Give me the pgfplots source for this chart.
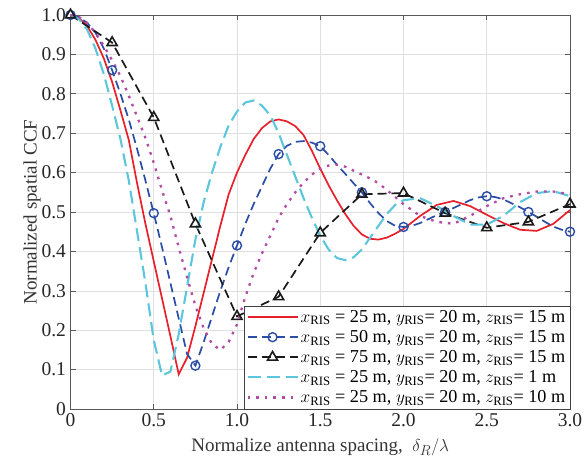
\documentclass[border=0pt]{standalone}
\usepackage{fontspec}
\setmainfont{Liberation Serif}
\usepackage{pgfplots}
\pgfplotsset{compat=1.18}
\usetikzlibrary{calc}
\definecolor{cred}{HTML}{E8202A}
\definecolor{cblue}{HTML}{2B4DA6}
\definecolor{cblack}{HTML}{1A1A1A}
\definecolor{ccyan}{HTML}{5CC6DC}
\definecolor{cmag}{HTML}{B24BA6}
\begin{document}
\begin{tikzpicture}
\begin{axis}[
  scale only axis, width=499.5pt, height=394pt,
  xmin=0, xmax=3, ymin=0, ymax=1,
  xtick={0,0.5,1,1.5,2,2.5,3},
  xticklabels={0,0.5,1.0,1.5,2.0,2.5,3.0},
  ytick={0,0.1,0.2,0.3,0.4,0.5,0.6,0.7,0.8,0.9,1.0},
  yticklabels={0,0.1,0.2,0.3,0.4,0.5,0.6,0.7,0.8,0.9,1.0},
  tick align=inside, tick pos=both,
  major tick length=5pt,
  grid=major,
  major grid style={draw=black!12, line width=0.6pt},
  axis line style={draw=black!65, line width=0.8pt},
  every tick/.style={draw=black!65, line width=0.6pt},
  tick label style={font=\fontsize{19.5}{22}\selectfont, text=black!85},
  xticklabel style={yshift=-1pt},
  yticklabel style={xshift=-1pt},
  xlabel={Normalize antenna spacing,\ \ $\delta_R/\lambda$},
  ylabel={Normalized spatial CCF},
  label style={font=\fontsize{19}{22}\selectfont, text=black!80},
  xlabel style={yshift=-5pt},
  ylabel style={yshift=-6pt},
  legend style={at={(1,0)}, anchor=south east, draw=black!75, fill=white,
    font=\fontsize{18.2}{20}\selectfont, row sep=2.5pt, inner sep=2.5pt,
    cells={anchor=west}},
  legend image code/.code={\draw[#1, mark repeat=2, mark phase=2] plot coordinates {(0pt,0pt) (25pt,0pt) (50pt,0pt)};},
]
% red: x=25, z=15
\addplot[cred, line width=1.7pt, solid] coordinates {
(0,1) (0.05,0.993) (0.1,0.972) (0.15,0.937) (0.2,0.89) (0.25,0.83) (0.3,0.758) (0.35,0.683) (0.4,0.573) (0.45,0.47)
(0.5,0.375) (0.55,0.28) (0.6,0.185) (0.65,0.088) (0.7,0.13) (0.75,0.21) (0.8,0.295) (0.85,0.38) (0.9,0.465) (0.95,0.545)
(1.0,0.60) (1.05,0.645) (1.1,0.685) (1.15,0.713) (1.2,0.73) (1.25,0.735) (1.3,0.73) (1.35,0.718) (1.4,0.695) (1.45,0.655)
(1.5,0.61) (1.55,0.568) (1.6,0.53) (1.65,0.495) (1.7,0.465) (1.75,0.443) (1.8,0.432) (1.85,0.43) (1.9,0.435) (1.95,0.445)
(2.0,0.457) (2.1,0.49) (2.2,0.518) (2.3,0.528) (2.4,0.515) (2.5,0.493) (2.6,0.472) (2.7,0.455) (2.8,0.452) (2.9,0.47) (3.0,0.505)};
\addlegendentry{$x_{\mathrm{RIS}}$ = 25 m, $y_{\mathrm{RIS}}$= 20 m, $z_{\mathrm{RIS}}$= 15 m}
% blue: x=50, z=15
\addplot[cblue, line width=1.7pt, dash pattern=on 9pt off 5pt, mark=o, mark size=4.5pt, mark repeat=5,
  mark options={solid, line width=1.4pt}] coordinates {
(0,1.0) (0.05,0.995) (0.1,0.98) (0.15,0.955) (0.2,0.915) (0.25,0.86) (0.3,0.80) (0.35,0.735) (0.4,0.66) (0.45,0.58)
(0.5,0.497) (0.55,0.41) (0.6,0.32) (0.65,0.23) (0.7,0.14) (0.75,0.11) (0.8,0.17) (0.85,0.235) (0.9,0.30) (0.95,0.36)
(1.0,0.415) (1.05,0.47) (1.1,0.52) (1.15,0.565) (1.2,0.61) (1.25,0.647) (1.3,0.668) (1.35,0.678) (1.4,0.68) (1.45,0.676)
(1.5,0.667) (1.55,0.645) (1.6,0.62) (1.65,0.597) (1.7,0.573) (1.75,0.55) (1.8,0.522) (1.85,0.497) (1.9,0.477) (1.95,0.465)
(2.0,0.462) (2.05,0.465) (2.1,0.472) (2.15,0.482) (2.2,0.492) (2.25,0.50) (2.3,0.51) (2.35,0.52) (2.4,0.53) (2.45,0.537)
(2.5,0.54) (2.55,0.538) (2.6,0.532) (2.65,0.522) (2.7,0.512) (2.75,0.50) (2.8,0.488) (2.85,0.475) (2.9,0.463) (2.95,0.455) (3.0,0.45)};
\addlegendentry{$x_{\mathrm{RIS}}$ = 50 m, $y_{\mathrm{RIS}}$= 20 m, $z_{\mathrm{RIS}}$= 15 m}
% black: x=75, z=15
\addplot[cblack, line width=1.7pt, dash pattern=on 9pt off 5pt, mark=triangle, mark size=5.8pt,
  mark options={solid, line width=1.6pt}] coordinates {
(0,1.0) (0.25,0.93) (0.5,0.74) (0.75,0.47) (1.0,0.235) (1.25,0.285) (1.5,0.447) (1.75,0.545) (2.0,0.548) (2.25,0.497) (2.5,0.46) (2.75,0.475) (3.0,0.52)};
\addlegendentry{$x_{\mathrm{RIS}}$ = 75 m, $y_{\mathrm{RIS}}$= 20 m, $z_{\mathrm{RIS}}$= 15 m}
% cyan: x=25, z=1
\addplot[ccyan, line width=2.1pt, dash pattern=on 13pt off 6pt] coordinates {
(0,1) (0.05,0.99) (0.1,0.963) (0.15,0.915) (0.2,0.85) (0.25,0.77) (0.3,0.685) (0.35,0.58) (0.4,0.45) (0.45,0.32)
(0.5,0.175) (0.55,0.085) (0.6,0.095) (0.65,0.19) (0.7,0.31) (0.75,0.43) (0.8,0.525) (0.85,0.6) (0.9,0.665) (0.95,0.72)
(1.0,0.755) (1.05,0.778) (1.1,0.783) (1.15,0.77) (1.2,0.745) (1.25,0.70) (1.3,0.645) (1.35,0.59) (1.4,0.535) (1.45,0.485)
(1.5,0.44) (1.55,0.405) (1.6,0.383) (1.65,0.378) (1.7,0.385) (1.75,0.405) (1.8,0.435) (1.85,0.465) (1.9,0.495) (1.95,0.518)
(2.0,0.53) (2.1,0.535) (2.2,0.515) (2.3,0.49) (2.4,0.468) (2.5,0.468) (2.6,0.49) (2.7,0.525) (2.8,0.548) (2.9,0.553) (3.0,0.54)};
\addlegendentry{$x_{\mathrm{RIS}}$ = 25 m, $y_{\mathrm{RIS}}$= 20 m, $z_{\mathrm{RIS}}$= 1 m}
% magenta: x=25, z=10
\addplot[cmag, line width=2.3pt, dash pattern=on 2.6pt off 6pt] coordinates {
(0,1) (0.05,0.995) (0.1,0.98) (0.15,0.955) (0.2,0.922) (0.25,0.885) (0.3,0.845) (0.35,0.795) (0.4,0.742) (0.45,0.688)
(0.5,0.625) (0.55,0.555) (0.6,0.49) (0.65,0.41) (0.7,0.335) (0.75,0.262) (0.8,0.205) (0.85,0.165) (0.9,0.15) (0.95,0.17)
(1.0,0.215) (1.05,0.285) (1.1,0.345) (1.15,0.395) (1.2,0.44) (1.25,0.485) (1.3,0.52) (1.35,0.55) (1.4,0.575) (1.45,0.595)
(1.5,0.61) (1.55,0.618) (1.6,0.62) (1.65,0.615) (1.7,0.605) (1.75,0.595) (1.8,0.585) (1.85,0.573) (1.9,0.556) (1.95,0.538)
(2.0,0.52) (2.1,0.49) (2.2,0.475) (2.3,0.47) (2.4,0.49) (2.5,0.515) (2.6,0.535) (2.7,0.545) (2.8,0.552) (2.9,0.552) (3.0,0.545)};
\addlegendentry{$x_{\mathrm{RIS}}$ = 25 m, $y_{\mathrm{RIS}}$= 20 m, $z_{\mathrm{RIS}}$= 10 m}
\end{axis}
\pgfresetboundingbox
\path ($(current axis.south west)+(-70.5pt,-54pt)$) rectangle ($(current axis.north east)+(18pt,15pt)$);
\end{tikzpicture}
\end{document}
